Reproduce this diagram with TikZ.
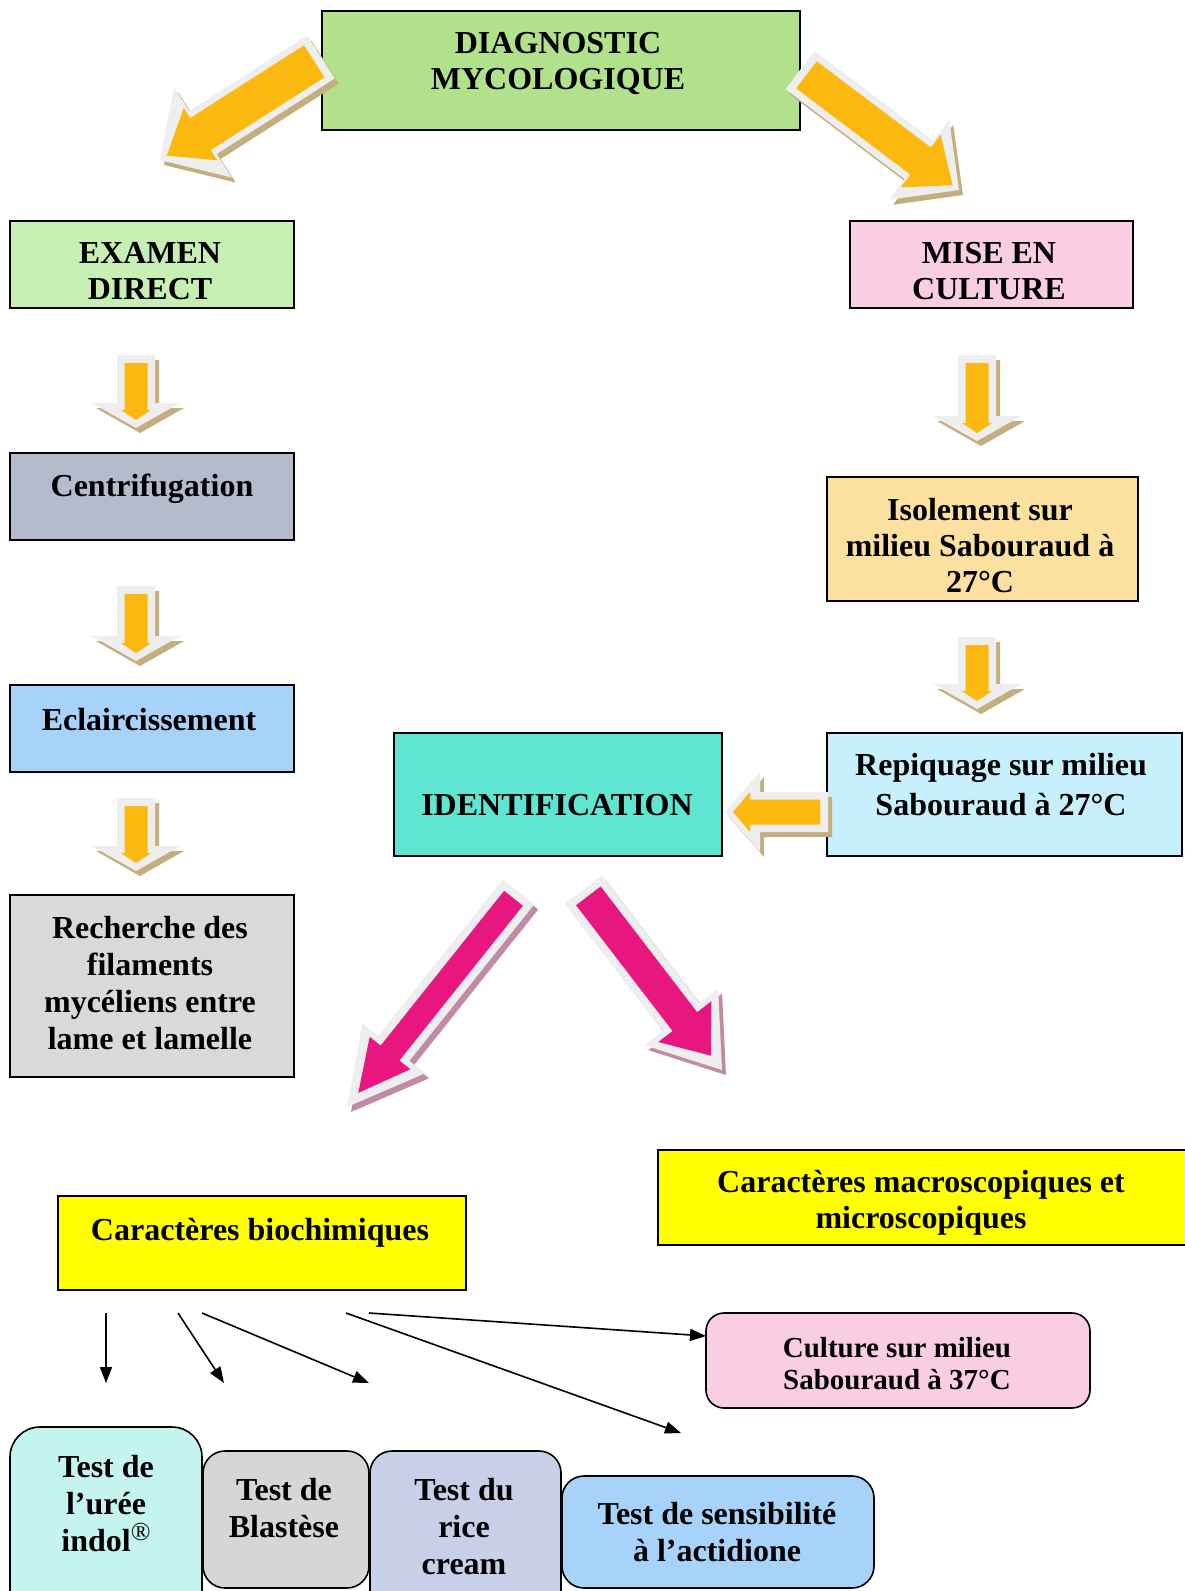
\documentclass[tikz,border=0pt]{standalone}
\usepackage{fontspec}
\setmainfont{Liberation Serif}
\usetikzlibrary{arrows.meta}
\definecolor{orFill}{HTML}{FBB80F}
\definecolor{orShadow}{HTML}{C4AE7F}
\definecolor{pkFill}{HTML}{E8177F}
\definecolor{pkShadow}{HTML}{C18BA6}
\definecolor{baEdge}{HTML}{EEEEEE}
\definecolor{cDiag}{HTML}{B2E18B}
\definecolor{cExam}{HTML}{C8EFB3}
\definecolor{cPink}{HTML}{F9CEE3}
\definecolor{cCentr}{HTML}{B4BBCC}
\definecolor{cBlue}{HTML}{A7D3FB}
\definecolor{cGrey}{HTML}{D9D9D9}
\definecolor{cIsol}{HTML}{FCE09F}
\definecolor{cRepi}{HTML}{C7EFFC}
\definecolor{cIdent}{HTML}{5FE6D3}
\definecolor{cYel}{HTML}{FFFF00}
\definecolor{cUree}{HTML}{C5F4EE}
\definecolor{cBlast}{HTML}{D6D6D6}
\definecolor{cRice}{HTML}{C8CFE8}
\def\batip{8}
% #1 tail, #2 tip, #3 outer shaft, #4 outer head width, #5 outer head length,
% #6 inner shaft, #7 inner head width, #8 inner head length, #9 colour prefix
\newcommand\blockarrow[9]{%
  \coordinate (baA) at (#1);
  \coordinate (baB) at (#2);
  \pgfpointdiff{\pgfpointanchor{baA}{center}}{\pgfpointanchor{baB}{center}}%
  \pgfgetlastxy{\badx}{\bady}%
  \pgfmathsetmacro{\baang}{atan2(\bady,\badx)}%
  \pgfmathsetmacro{\balen}{veclen(\badx,\bady)}%
  \begin{scope}[shift={(baA)}, xshift=4pt, yshift=-5pt, rotate=\baang, x=1pt, y=1pt]
    \fill[#9Shadow] (0,{-#3/2}) -- ({\balen-#5},{-#3/2}) -- ({\balen-#5},{-#4/2}) -- (\balen,0)
      -- ({\balen-#5},{#4/2}) -- ({\balen-#5},{#3/2}) -- (0,{#3/2}) -- cycle;
  \end{scope}
  \begin{scope}[shift={(baA)}, rotate=\baang, x=1pt, y=1pt]
    \fill[baEdge] (0,{-#3/2}) -- ({\balen-#5},{-#3/2}) -- ({\balen-#5},{-#4/2}) -- (\balen,0)
      -- ({\balen-#5},{#4/2}) -- ({\balen-#5},{#3/2}) -- (0,{#3/2}) -- cycle;
    \fill[#9Fill] (8,{-#6/2}) -- ({\balen-\batip-#8},{-#6/2}) -- ({\balen-\batip-#8},{-#7/2}) -- ({\balen-\batip},0)
      -- ({\balen-\batip-#8},{#7/2}) -- ({\balen-\batip-#8},{#6/2}) -- (8,{#6/2}) -- cycle;
  \end{scope}}
\begin{document}
\begin{tikzpicture}[x=1pt,y=-1pt,
  box/.style={draw=black, line width=1.6pt, inner sep=0pt},
  rbox/.style={box, rounded corners=22pt},
  txt/.style={font=\bfseries\fontsize{32}{36}\selectfont, align=center, inner sep=0pt},
  conn/.style={line width=1.6pt, -{Triangle[length=16pt,width=12pt]}}]
\useasboundingbox (0,0) rectangle (1185,1591);
\clip (0,0) rectangle (1185,1591);
\fill[white] (0,0) rectangle (1185,1591);

% boxes
\node[box, fill=cDiag, minimum width=478, minimum height=119] (diag) at (561,70.5) {};
\node[txt] (diagT) at (558,63) {DIAGNOSTIC\\MYCOLOGIQUE};

\node[box, fill=cExam, minimum width=284, minimum height=87] (exam) at (152,264.5) {};
\node[txt] (examT) at (150,271) {EXAMEN\\DIRECT};

\node[box, fill=cPink, minimum width=283, minimum height=87] (mise) at (991.5,264.5) {};
\node[txt] (miseT) at (989,271) {MISE EN\\CULTURE};

\node[box, fill=cCentr, minimum width=284, minimum height=87] (centr) at (152,496.5) {};
\node[txt] (centrT) at (152,489) {Centrifugation};

\node[box, fill=cBlue, minimum width=284, minimum height=87] (eclair) at (152,728.5) {};
\node[txt] (eclairT) at (149,720) {Eclaircissement};

\node[box, fill=cGrey, minimum width=284, minimum height=182] (rech) at (152,986) {};
\node[txt, font=\bfseries\fontsize{32}{37}\selectfont] (rechT) at (150,983) {Recherche des\\filaments\\mycéliens entre\\lame et lamelle};

\node[box, fill=cIsol, minimum width=311, minimum height=124] (isol) at (982.5,539) {};
\node[txt] (isolT) at (980,546) {Isolement sur\\milieu Sabouraud à\\27°C};

\node[box, fill=cRepi, minimum width=355, minimum height=123] (repi) at (1004.5,794.5) {};
\node[txt, font=\bfseries\fontsize{32}{40}\selectfont] (repiT) at (1001,785) {Repiquage sur milieu\\Sabouraud à 27°C};

\node[box, fill=cIdent, minimum width=328, minimum height=123] (ident) at (558,794.5) {};
\node[txt] (identT) at (557,805) {IDENTIFICATION};

\node[box, fill=cYel, minimum width=537, minimum height=95] (macro) at (926.5,1197.5) {};
\node[txt] (macroT) at (921,1203) {Caractères macroscopiques et\\microscopiques};

\node[box, fill=cYel, minimum width=408, minimum height=94] (bioch) at (262,1243) {};
\node[txt] (biochT) at (260,1233) {Caractères biochimiques};

\node[rbox, fill=cPink, minimum width=384, minimum height=95, rounded corners=18pt] (cult) at (898,1360.5) {};
\node[txt, font=\bfseries\fontsize{29}{32}\selectfont] (cultT) at (897,1364) {Culture sur milieu\\Sabouraud à 37°C};

\node[rbox, fill=cUree, minimum width=192, minimum height=193, rounded corners=30pt] (uree) at (106,1523.5) {};
\node[txt, font=\bfseries\fontsize{32}{37}\selectfont] (ureeT) at (106,1504) {Test de\\l’urée\\indol\raisebox{11pt}{\fontsize{26}{26}\selectfont\mdseries ®}};

\node[rbox, fill=cBlast, minimum width=166, minimum height=137] (blast) at (286,1519.5) {};
\node[txt, font=\bfseries\fontsize{32}{37}\selectfont] (blastT) at (284,1508) {Test de\\Blastèse};

\node[rbox, fill=cRice, minimum width=191, minimum height=169] (rice) at (465.5,1535.5) {};
\node[txt, font=\bfseries\fontsize{32}{37}\selectfont] (riceT) at (464,1527) {Test du\\rice\\cream};

\node[rbox, fill=cBlue, minimum width=312, minimum height=112] (sens) at (718,1532) {};
\node[txt, font=\bfseries\fontsize{32}{37}\selectfont] (sensT) at (717,1532) {Test de sensibilité\\à l’actidione};

% block arrows
\blockarrow{321,57}{160,160}{51}{107}{51}{38}{62}{40}{or}
\blockarrow{800,70}{959,190}{48}{100}{50}{34}{66}{40}{or}
\blockarrow{136,355}{136,428}{38}{88}{25}{23}{30}{10}{or}
\blockarrow{136,586}{136,661}{38}{88}{25}{23}{30}{10}{or}
\blockarrow{136,798}{136,871}{38}{88}{25}{23}{30}{10}{or}
\blockarrow{977,355}{977,441}{38}{88}{25}{23}{30}{10}{or}
\blockarrow{977,637}{977,709}{38}{88}{25}{23}{30}{10}{or}
\blockarrow{828,812}{725,812}{40}{80}{35}{25}{40}{17}{or}
\def\batip{18}
\blockarrow{518.5,892}{347,1107}{40}{80}{75}{24}{52}{51}{pk}
\blockarrow{583.5,889.5}{722,1070}{46}{93}{67}{31}{67}{43}{pk}

% thin connectors
\coordinate (s1) at (106,1313);
\coordinate (e1) at (106,1383);
\coordinate (s2) at (178,1313);
\coordinate (e2) at (224,1383);
\coordinate (s3) at (202,1313);
\coordinate (e3) at (369,1383);
\coordinate (s4) at (346,1313);
\coordinate (e4) at (681,1433);
\coordinate (s5) at (369,1313);
\coordinate (e5) at (706,1336);
\draw[conn] (s1) -- (e1);
\draw[conn] (s2) -- (e2);
\draw[conn] (s3) -- (e3);
\draw[conn] (s4) -- (e4);
\draw[conn] (s5) -- (e5);
\end{tikzpicture}
\end{document}
